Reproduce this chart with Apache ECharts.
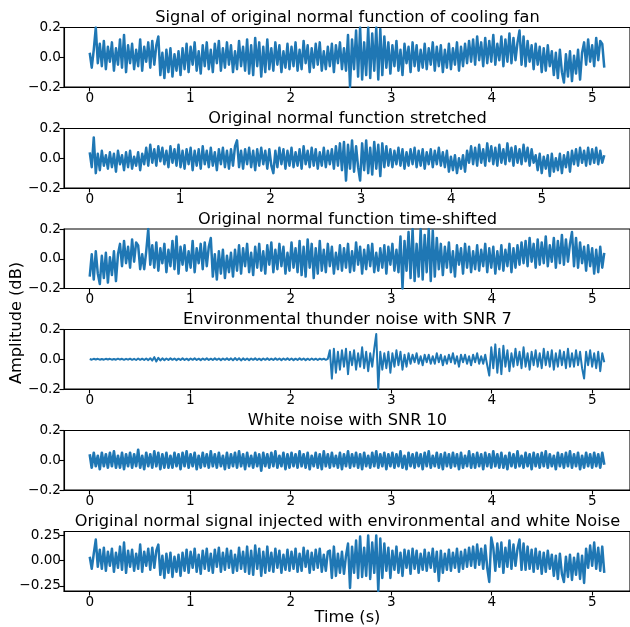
<!DOCTYPE html>
<html>
<head>
<meta charset="utf-8">
<script src="https://cdn.jsdelivr.net/npm/echarts@6/dist/echarts.min.js"></script>
<style>html,body{margin:0;padding:0;background:#fff}#c{width:630px;height:627px}</style>
</head>
<body>
<div id="c"></div>
<script>
// ---- data (amplitudes) ----
const panelTitles = [
  'Signal of original normal function of cooling fan',
  'Original normal function stretched',
  'Original normal function time-shifted',
  'Environmental thunder noise with SNR 7',
  'White noise with SNR 10',
  'Original normal signal injected with environmental and white Noise'
];
const durations = [5.12, 5.69, 5.12, 5.12, 5.12, 5.12]; // seconds covered by each recording
const xTickValues = [0, 1, 2, 3, 4, 5];
const yTickValues = [-0.2, 0, 0.2];
const yTickValuesMixed = [-0.25, 0, 0.25];

const fanOriginal = [
0.03,-0.07,0.05,0.20,-0.04,0.09,-0.06,0.11,-0.08,0.07,
-0.03,0.10,-0.09,0.06,-0.05,0.12,-0.07,0.15,-0.10,0.08,
-0.04,0.09,-0.08,0.05,-0.06,0.12,-0.09,0.07,-0.03,0.10,
-0.07,0.11,-0.05,0.08,0.14,-0.12,0.03,-0.14,0.05,-0.10,
0.06,-0.13,0.02,-0.09,0.04,-0.12,0.06,-0.08,0.09,-0.10,
0.07,-0.05,0.10,-0.09,0.04,-0.11,0.08,-0.06,0.10,-0.08,
0.05,-0.10,0.09,-0.04,0.11,-0.09,0.06,-0.07,0.10,-0.05,
0.08,-0.10,0.04,-0.08,0.11,-0.06,0.07,-0.09,0.12,-0.11,
0.08,-0.12,0.13,-0.06,0.10,-0.13,0.07,-0.10,0.12,-0.08,
0.06,-0.09,0.10,-0.05,0.08,-0.10,0.04,-0.07,0.09,-0.08,
0.07,-0.06,0.10,-0.09,0.05,-0.08,0.11,-0.04,0.08,-0.10,
0.06,-0.07,0.09,-0.05,0.10,-0.09,0.04,-0.08,0.07,-0.06,
0.09,-0.10,0.08,-0.04,0.10,-0.08,0.06,-0.09,0.15,-0.20,
0.12,-0.08,0.18,-0.13,0.20,-0.15,0.10,-0.12,0.20,-0.14,
0.16,-0.09,0.20,-0.15,0.19,-0.12,0.14,-0.07,0.10,-0.11,
0.08,-0.06,0.11,-0.09,0.05,-0.12,0.09,-0.04,0.07,-0.10,
0.10,-0.06,0.08,-0.09,0.05,-0.07,0.09,-0.08,0.06,-0.05,
0.10,-0.09,0.07,-0.06,0.08,-0.10,0.05,-0.07,0.09,-0.08,
0.06,-0.05,0.10,-0.09,0.07,-0.06,0.09,-0.04,0.11,-0.03,
0.12,-0.05,0.14,-0.02,0.10,-0.06,0.13,-0.04,0.11,-0.03,
0.15,-0.05,0.09,-0.02,0.14,-0.06,0.12,-0.03,0.16,-0.04,
0.13,-0.02,0.10,0.18,-0.05,0.14,-0.06,0.11,-0.03,0.08,
-0.08,0.09,-0.05,0.07,-0.10,0.06,-0.09,0.08,-0.06,0.04,
-0.12,0.03,-0.14,0.05,-0.10,-0.17,0.02,-0.13,0.04,-0.16,
0.01,-0.11,0.05,-0.15,0.03,0.10,-0.05,0.12,-0.03,0.08,
-0.06,0.13,-0.02,0.11,0.09,-0.07
];

const fanStretched = [
0.04,-0.06,0.14,-0.10,0.03,-0.08,0.05,-0.05,0.02,-0.07,
0.04,-0.06,0.03,-0.09,0.05,-0.04,0.02,-0.08,0.04,-0.06,
0.05,-0.07,0.01,-0.05,0.04,-0.08,0.03,-0.04,0.07,-0.05,
0.09,-0.03,0.06,-0.05,0.08,-0.02,0.07,-0.04,0.05,-0.06,
0.08,-0.03,0.06,-0.05,0.09,-0.06,0.05,-0.07,0.06,-0.04,
0.07,-0.08,0.05,-0.05,0.06,-0.07,0.08,-0.04,0.05,-0.06,
0.07,-0.05,0.04,-0.08,0.06,-0.04,0.07,-0.06,0.05,-0.07,
0.06,-0.05,0.08,0.12,-0.06,0.05,-0.07,0.06,-0.04,0.07,
-0.06,0.05,-0.08,0.06,-0.05,0.07,-0.04,0.05,-0.07,0.06,
-0.05,-0.10,0.05,-0.06,0.07,-0.04,0.06,-0.07,0.05,-0.05,
0.07,-0.06,0.04,-0.05,0.06,-0.07,0.08,-0.04,0.05,-0.06,
0.07,-0.05,0.06,-0.07,0.04,-0.05,0.07,-0.06,0.05,-0.04,
0.06,-0.07,0.08,-0.05,0.10,-0.08,0.11,-0.15,0.09,-0.07,
0.12,-0.09,0.08,-0.06,-0.15,0.10,-0.08,0.12,-0.10,0.07,
-0.11,0.11,-0.07,0.09,-0.12,0.10,-0.06,0.08,-0.05,0.06,
-0.06,0.05,-0.04,0.07,-0.05,0.06,-0.07,0.04,-0.05,0.06,
-0.04,0.07,-0.06,0.05,-0.05,0.06,-0.07,0.04,-0.04,0.06,
-0.06,0.05,-0.04,0.07,-0.05,0.04,-0.06,0.05,-0.09,0.01,
-0.08,0.02,-0.10,0.00,-0.07,0.02,-0.09,0.05,-0.03,0.08,
-0.04,0.07,-0.05,0.09,-0.03,0.06,-0.05,0.10,-0.02,0.08,
-0.04,0.07,-0.05,0.09,-0.03,0.06,-0.04,0.10,-0.02,0.07,
-0.05,0.08,-0.03,0.06,-0.04,0.09,-0.02,0.07,-0.05,0.06,
-0.03,0.02,-0.08,0.03,-0.10,0.01,-0.07,0.02,-0.12,0.03,
-0.09,0.00,-0.08,0.03,-0.10,0.02,-0.06,0.04,-0.09,0.05,
-0.04,0.06,-0.05,0.07,-0.03,0.05,-0.05,0.07,-0.04,0.06,
-0.03,0.07,-0.04,0.05,-0.03,0.02
];

const fanShifted = [
-0.12,0.03,-0.14,0.05,-0.10,-0.17,0.02,-0.13,0.04,-0.16,
0.01,-0.11,0.05,-0.15,0.03,0.10,-0.05,0.12,-0.03,0.08,
-0.06,0.13,-0.02,0.11,0.09,-0.07,
0.03,-0.07,0.05,0.20,-0.04,0.09,-0.06,0.11,-0.08,0.07,
-0.03,0.10,-0.09,0.06,-0.05,0.12,-0.07,0.15,-0.10,0.08,
-0.04,0.09,-0.08,0.05,-0.06,0.12,-0.09,0.07,-0.03,0.10,
-0.07,0.11,-0.05,0.08,0.14,-0.12,0.03,-0.14,0.05,-0.10,
0.06,-0.13,0.02,-0.09,0.04,-0.12,0.06,-0.08,0.09,-0.10,
0.07,-0.05,0.10,-0.09,0.04,-0.11,0.08,-0.06,0.10,-0.08,
0.05,-0.10,0.09,-0.04,0.11,-0.09,0.06,-0.07,0.10,-0.05,
0.08,-0.10,0.04,-0.08,0.11,-0.06,0.07,-0.09,0.12,-0.11,
0.08,-0.12,0.13,-0.06,0.10,-0.13,0.07,-0.10,0.12,-0.08,
0.06,-0.09,0.10,-0.05,0.08,-0.10,0.04,-0.07,0.09,-0.08,
0.07,-0.06,0.10,-0.09,0.05,-0.08,0.11,-0.04,0.08,-0.10,
0.06,-0.07,0.09,-0.05,0.10,-0.09,0.04,-0.08,0.07,-0.06,
0.09,-0.10,0.08,-0.04,0.10,-0.08,0.06,-0.09,0.15,-0.20,
0.12,-0.08,0.18,-0.13,0.20,-0.15,0.10,-0.12,0.20,-0.14,
0.16,-0.09,0.20,-0.15,0.19,-0.12,0.14,-0.07,0.10,-0.11,
0.08,-0.06,0.11,-0.09,0.05,-0.12,0.09,-0.04,0.07,-0.10,
0.10,-0.06,0.08,-0.09,0.05,-0.07,0.09,-0.08,0.06,-0.05,
0.10,-0.09,0.07,-0.06,0.08,-0.10,0.05,-0.07,0.09,-0.08,
0.06,-0.05,0.10,-0.09,0.07,-0.06,0.09,-0.04,0.11,-0.03,
0.12,-0.05,0.14,-0.02,0.10,-0.06,0.13,-0.04,0.11,-0.03,
0.15,-0.05,0.09,-0.02,0.14,-0.06,0.12,-0.03,0.16,-0.04,
0.13,-0.02,0.10,0.18,-0.05,0.14,-0.06,0.11,-0.03,0.08,
-0.08,0.09,-0.05,0.07,-0.10,0.06,-0.09,0.08,-0.06,0.04
];

const thunderNoise = [
0.002,-0.003,0.003,-0.002,0.003,-0.003,0.002,-0.003,0.003,-0.002,
0.003,-0.003,0.002,-0.003,0.004,-0.002,0.003,-0.004,0.003,-0.003,
0.004,-0.004,0.003,-0.005,0.005,-0.004,0.004,-0.005,0.005,-0.006,
0.007,-0.009,0.014,-0.015,0.010,-0.008,0.006,-0.006,0.005,-0.005,
0.006,-0.004,0.005,-0.006,0.004,-0.005,0.006,-0.005,0.004,-0.006,
0.005,-0.004,0.006,-0.005,0.004,-0.006,0.005,-0.004,0.006,-0.005,
0.004,-0.005,0.006,-0.004,0.005,-0.006,0.005,-0.004,0.006,-0.005,
0.006,-0.007,0.008,-0.006,0.007,-0.008,0.006,-0.005,0.005,-0.006,
0.005,-0.004,0.006,-0.005,0.004,-0.006,0.005,-0.004,0.006,-0.005,
0.004,-0.005,0.006,-0.004,0.005,-0.006,0.005,-0.004,0.006,-0.005,
0.005,-0.006,0.004,-0.005,0.006,-0.004,0.005,-0.006,0.004,-0.005,
0.005,-0.004,0.004,-0.005,0.004,-0.003,0.004,-0.004,0.003,0.06,
-0.13,0.07,-0.09,0.05,-0.07,0.06,-0.05,0.07,-0.10,0.05,
-0.04,0.06,-0.07,0.04,-0.05,0.08,-0.06,0.05,-0.08,0.04,
-0.05,0.07,0.17,-0.20,0.05,-0.07,0.04,-0.06,0.05,-0.09,
0.04,-0.05,0.06,-0.04,0.05,-0.07,0.03,-0.05,0.04,-0.03,
0.03,-0.02,0.04,-0.03,0.02,-0.04,0.03,-0.02,0.03,-0.03,
0.02,-0.03,0.04,-0.02,0.03,-0.04,0.02,-0.03,0.03,-0.02,
0.04,-0.03,0.02,-0.05,0.03,-0.02,0.03,-0.03,0.02,-0.04,
0.03,-0.02,0.04,-0.03,0.02,-0.03,0.03,-0.04,-0.11,0.08,
-0.06,0.10,-0.09,0.07,-0.10,0.09,-0.05,0.06,-0.08,0.04,
-0.05,0.07,-0.04,0.05,-0.06,0.08,-0.05,0.04,-0.07,0.05,
-0.04,0.06,-0.05,0.04,-0.06,0.07,-0.04,0.05,-0.05,0.06,
-0.07,0.04,-0.05,0.06,-0.04,0.05,-0.06,0.07,-0.05,0.04,
-0.05,0.06,-0.04,0.05,-0.06,-0.13,0.05,-0.04,0.06,-0.05,
0.04,-0.06,0.05,-0.08,0.04,-0.02
];

const whiteNoise = [
0.04,-0.05,0.05,-0.04,0.03,-0.06,0.05,-0.04,0.04,-0.05,
0.05,-0.04,0.06,-0.05,0.03,-0.05,0.05,-0.06,0.04,-0.04,
0.05,-0.05,0.04,-0.04,0.07,-0.05,0.03,-0.06,0.05,-0.04,
0.04,-0.05,0.06,-0.04,0.05,-0.06,0.04,-0.05,0.05,-0.05,
0.03,-0.05,0.05,-0.04,0.04,-0.06,0.05,-0.04,0.06,-0.05,
0.04,-0.04,0.05,-0.06,0.03,-0.05,0.05,-0.04,0.04,-0.05,
0.06,-0.04,0.04,-0.05,0.05,-0.04,0.03,-0.06,0.05,-0.05,
0.04,-0.04,0.05,-0.05,0.06,-0.04,0.04,-0.06,0.05,-0.04,
0.03,-0.05,0.05,-0.04,0.04,-0.07,0.05,-0.04,0.04,-0.05,
0.05,-0.04,0.06,-0.05,0.03,-0.04,0.05,-0.06,0.04,-0.05,
0.05,-0.04,0.04,-0.05,0.06,-0.04,0.04,-0.05,0.05,-0.06,
0.03,-0.04,0.05,-0.05,0.04,-0.06,0.06,-0.04,0.04,-0.05,
0.05,-0.04,0.03,-0.05,0.05,-0.06,0.04,-0.04,0.06,-0.05,
0.04,-0.04,0.05,-0.05,0.04,-0.06,0.05,-0.04,0.03,-0.05,
0.05,-0.04,0.06,-0.05,0.04,-0.04,0.05,-0.06,0.04,-0.04,
0.05,-0.05,0.04,-0.04,0.06,-0.05,0.03,-0.06,0.05,-0.04,
0.04,-0.05,0.05,-0.04,0.04,-0.06,0.05,-0.04,0.06,-0.05,
0.03,-0.04,0.05,-0.05,0.04,-0.06,0.05,-0.04,0.04,-0.05,
0.05,-0.04,0.04,-0.06,0.05,-0.05,0.03,-0.04,0.06,-0.05,
0.04,-0.05,0.05,-0.04,0.04,-0.06,0.05,-0.04,0.04,-0.05,
0.06,-0.04,0.04,-0.05,0.05,-0.05,0.03,-0.06,0.05,-0.04,
0.04,-0.05,0.06,-0.04,0.03,-0.05,0.05,-0.04,0.04,-0.06,
0.05,-0.04,0.04,-0.05,0.05,-0.04,0.06,-0.05,0.04,-0.04,
0.03,-0.06,0.05,-0.04,0.04,-0.05,0.05,-0.04,0.06,-0.05,
0.04,-0.04,0.05,-0.06,0.03,-0.05,0.05,-0.04,0.04,-0.05,
0.05,-0.04,0.04,-0.05,0.05,-0.03
];

const fanWithNoise = [
0.04,-0.08,0.07,0.21,-0.06,0.11,-0.08,0.13,-0.10,0.09,
-0.05,0.12,-0.11,0.08,-0.07,0.14,-0.09,0.18,-0.12,0.10,
-0.06,0.11,-0.10,0.07,-0.08,0.16,-0.11,0.09,-0.05,0.12,
-0.09,0.13,-0.07,0.10,0.16,-0.14,0.05,-0.17,0.07,-0.12,
0.08,-0.16,0.04,-0.11,0.06,-0.15,0.08,-0.10,0.11,-0.12,
0.09,-0.07,0.12,-0.11,0.06,-0.13,0.10,-0.08,0.12,-0.10,
0.07,-0.12,0.11,-0.06,0.13,-0.11,0.08,-0.09,0.12,-0.07,
0.10,-0.12,0.06,-0.10,0.13,-0.08,0.09,-0.11,0.14,-0.13,
0.10,-0.14,0.15,-0.08,0.12,-0.15,0.09,-0.12,0.14,-0.10,
0.08,-0.11,0.12,-0.07,0.10,-0.12,0.06,-0.09,0.11,-0.10,
0.09,-0.08,0.12,-0.11,0.07,-0.10,0.13,-0.06,0.10,-0.12,
0.08,-0.09,0.11,-0.07,0.12,-0.11,0.06,-0.10,0.09,0.10,
-0.17,0.14,-0.15,0.07,-0.12,0.09,-0.13,0.05,0.17,-0.27,
0.14,-0.12,0.20,-0.17,0.24,-0.16,0.13,-0.15,0.25,-0.18,
0.18,-0.12,0.25,-0.30,0.22,-0.17,0.17,-0.10,0.13,-0.17,
0.10,-0.09,0.14,-0.12,0.08,-0.15,0.11,-0.07,0.10,-0.13,
0.12,-0.08,0.10,-0.12,0.07,-0.09,0.11,-0.10,0.08,-0.07,
0.12,-0.11,0.09,-0.20,0.10,-0.12,0.07,-0.09,0.11,-0.10,
0.08,-0.07,0.12,-0.11,0.09,-0.08,0.11,-0.06,0.13,-0.05,
0.14,-0.07,0.16,-0.04,0.12,-0.08,0.15,-0.07,-0.21,0.23,
0.13,-0.10,0.17,-0.06,0.18,-0.12,0.13,-0.06,0.20,-0.08,
0.16,-0.05,0.12,0.21,-0.09,0.17,-0.09,0.14,-0.08,0.11,
-0.11,0.12,-0.08,0.09,-0.13,0.08,-0.11,0.10,-0.08,0.06,
-0.15,0.05,-0.18,0.07,-0.13,-0.21,0.04,-0.16,0.06,-0.19,
0.03,-0.14,0.07,-0.18,0.05,-0.22,0.12,-0.07,0.15,-0.05,
0.18,-0.08,0.13,-0.10,0.14,-0.12
];

const signals = [fanOriginal, fanStretched, fanShifted, thunderNoise, whiteNoise, fanWithNoise];

// ---- layout / style ----
const FONT = '"DejaVu Sans", Verdana, sans-serif';
const BLUE = '#1f77b4';
const LEFT = 64, WIDTH = 567;
const tops = [27.5, 128.5, 229, 329.5, 430.5, 531.5];
const HEIGHT = 59.5;
const TITLE_SIZE = 16.2, TICK_SIZE = 13.6;
const lineWidths = [2.5, 2.5, 2.5, 2.0, 2.7, 2.5];

function toSeriesData(vals, dur) {
  const step = dur / (vals.length - 1);
  return vals.map((v, i) => [i * step, v]);
}
function fmt(dec) {
  return v => (v < 0 ? '\u2212' : '') + Math.abs(v).toFixed(dec);
}
function textEl(text, x, y, rotation) {
  return {type: 'text', x, y, rotation: rotation || 0, silent: true,
    style: {text, fill: '#000', fontSize: TITLE_SIZE, fontFamily: FONT,
      align: 'center', verticalAlign: 'middle', textAlign: 'center', textVerticalAlign: 'middle'}};
}

const grid = [], xAxis = [], yAxis = [], series = [], graphic = [];
signals.forEach((vals, k) => {
  const dur = durations[k];
  const margin = dur * 0.05;
  const mixed = k === 5;
  grid.push({left: LEFT, top: tops[k], width: WIDTH, height: HEIGHT, show: true,
    borderColor: '#000', borderWidth: 1.1, backgroundColor: 'transparent'});
  xAxis.push({type: 'value', gridIndex: k, min: -margin, max: dur + margin,
    axisLine: {show: true, onZero: false, lineStyle: {color: '#000', width: 1.1}},
    axisTick: {show: true, length: 4.5, lineStyle: {color: '#000', width: 1.1}, customValues: xTickValues},
    axisLabel: {show: true, color: '#000', fontSize: TICK_SIZE, fontFamily: FONT, margin: 4,
      customValues: xTickValues, formatter: v => String(Math.round(v))},
    splitLine: {show: false}});
  yAxis.push({type: 'value', gridIndex: k,
    min: mixed ? -0.30 : -0.2, max: mixed ? 0.29 : 0.2,
    axisLine: {show: true, onZero: false, lineStyle: {color: '#000', width: 1.1}},
    axisTick: {show: true, length: 4.5, lineStyle: {color: '#000', width: 1.1},
      customValues: mixed ? yTickValuesMixed : yTickValues},
    axisLabel: {show: true, color: '#000', fontSize: TICK_SIZE, fontFamily: FONT, margin: 3,
      showMinLabel: true, showMaxLabel: true,
      customValues: mixed ? yTickValuesMixed : yTickValues, formatter: fmt(mixed ? 2 : 1)},
    splitLine: {show: false}});
  series.push({type: 'line', xAxisIndex: k, yAxisIndex: k, data: toSeriesData(vals, dur),
    showSymbol: false, symbol: 'none', sampling: null, clip: true,
    lineStyle: {color: BLUE, width: lineWidths[k], join: 'round'}, itemStyle: {color: BLUE}, silent: true});
  graphic.push(textEl(panelTitles[k], LEFT + WIDTH / 2, tops[k] - 9.5));
});
graphic.push(textEl('Time (s)', LEFT + WIDTH / 2, 617.5));
graphic.push(textEl('Amplitude (dB)', 17, 323, Math.PI / 2));

const chart = echarts.init(document.getElementById('c'), null, {renderer: 'canvas'});
chart.setOption({animation: false, backgroundColor: '#fff', grid, xAxis, yAxis, series, graphic});
</script>
</body>
</html>
